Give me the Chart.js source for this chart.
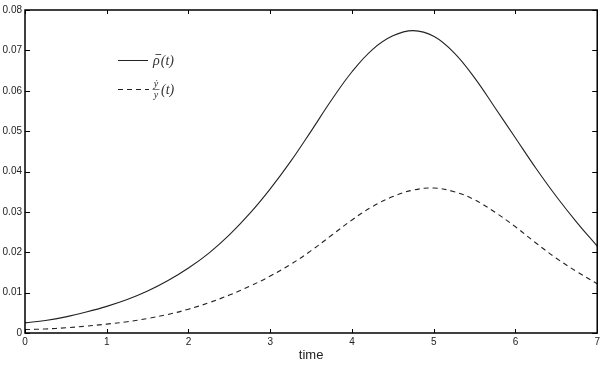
<!DOCTYPE html>
<html>
<head>
<meta charset="utf-8">
<script src="https://cdn.jsdelivr.net/npm/chart.js@4.4.1/dist/chart.umd.min.js"></script>
<style>
  html, body { margin: 0; padding: 0; background: #fff; }
  #wrap { width: 603px; height: 374px; }
</style>
</head>
<body>
<div id="wrap"><canvas id="c" width="603" height="374"></canvas></div>
<script>
const times = [0, 0.25, 0.5, 0.75, 1, 1.25, 1.5, 1.75, 2, 2.25, 2.5, 2.75, 3, 3.25, 3.5, 3.75, 4, 4.25, 4.5, 4.75, 5, 5.25, 5.5, 5.75, 6, 6.25, 6.5, 6.75, 7];
const rhoBar = [0.0025, 0.0031, 0.0040, 0.0052, 0.0066, 0.0083, 0.0104, 0.0130, 0.0161, 0.0198, 0.0243, 0.0296, 0.0357, 0.0425, 0.0500, 0.0577, 0.0647, 0.0702, 0.0736, 0.0749, 0.0735, 0.0694, 0.0632, 0.0558, 0.0483, 0.0408, 0.0338, 0.0274, 0.0215];
const yDotOverY = [0.00085, 0.0010, 0.0013, 0.0017, 0.0022, 0.0028, 0.0036, 0.0046, 0.0059, 0.0075, 0.0094, 0.0116, 0.0141, 0.0170, 0.0204, 0.0242, 0.0280, 0.0313, 0.0338, 0.0354, 0.0359, 0.0350, 0.0330, 0.0299, 0.0263, 0.0223, 0.0185, 0.0152, 0.0122];
const xTicks = [0, 1, 2, 3, 4, 5, 6, 7];
const yTicks = [0, 0.01, 0.02, 0.03, 0.04, 0.05, 0.06, 0.07, 0.08];
const xTitle = 'time';

const SANS = '"Liberation Sans", Arial, sans-serif';
const SERIF = '"Liberation Serif", "DejaVu Serif", serif';

const framePlugin = {
  id: 'frame',
  afterDraw(chart) {
    const ctx = chart.ctx;
    const a = chart.chartArea;
    const xs = chart.scales.x, ys = chart.scales.y;
    ctx.save();
    ctx.strokeStyle = '#000';
    ctx.lineWidth = 1;
    ctx.beginPath();
    xTicks.forEach(v => {
      const px = Math.round(xs.getPixelForValue(v)) + 0.5;
      ctx.moveTo(px, a.bottom); ctx.lineTo(px, a.bottom - 4);
      ctx.moveTo(px, a.top); ctx.lineTo(px, a.top + 4);
    });
    yTicks.forEach(v => {
      const py = Math.round(ys.getPixelForValue(v)) + 0.5;
      ctx.moveTo(a.left, py); ctx.lineTo(a.left + 5, py);
      ctx.moveTo(a.right, py); ctx.lineTo(a.right - 5, py);
    });
    ctx.stroke();
    ctx.lineWidth = 1.5;
    ctx.strokeRect(a.left, a.top, a.right - a.left, a.bottom - a.top);
    ctx.restore();
  }
};

const legendPlugin = {
  id: 'mathLegend',
  afterDatasetsDraw(chart) {
    const ctx = chart.ctx;
    ctx.save();
    ctx.strokeStyle = '#222';
    ctx.lineWidth = 1;
    ctx.beginPath(); ctx.moveTo(118, 60.5); ctx.lineTo(148, 60.5); ctx.stroke();
    ctx.setLineDash([5, 4]);
    ctx.beginPath(); ctx.moveTo(118, 89.5); ctx.lineTo(149, 89.5); ctx.stroke();
    ctx.setLineDash([]);
    ctx.fillStyle = '#333';
    ctx.textBaseline = 'alphabetic';
    ctx.textAlign = 'left';
    ctx.font = 'italic 14px ' + SERIF;
    ctx.fillText('\u03C1', 153, 65);
    const rw = ctx.measureText('\u03C1').width;
    ctx.lineWidth = 0.8;
    ctx.beginPath(); ctx.moveTo(155.5, 54.5); ctx.lineTo(153 + rw + 1.5, 54.5); ctx.stroke();
    ctx.fillText('(t)', 153 + rw + 1, 65);
    ctx.font = 'italic 10px ' + SERIF;
    ctx.textAlign = 'center';
    ctx.fillText('\u1E8F', 156, 87);
    ctx.fillText('y', 156, 98);
    ctx.beginPath(); ctx.moveTo(152.5, 89.5); ctx.lineTo(159.5, 89.5); ctx.lineWidth = 0.6; ctx.stroke();
    ctx.textAlign = 'left';
    ctx.font = 'italic 14px ' + SERIF;
    ctx.fillText('(t)', 161, 94);
    ctx.restore();
  }
};

new Chart(document.getElementById('c'), {
  type: 'line',
  data: {
    datasets: [
      {
        label: 'rho bar',
        data: times.map((t, i) => ({ x: t, y: rhoBar[i] })),
        borderColor: '#222',
        borderWidth: 1.1,
        pointRadius: 0,
        tension: 0.4,
        fill: false
      },
      {
        label: 'ydot/y',
        data: times.map((t, i) => ({ x: t, y: yDotOverY[i] })),
        borderColor: '#222',
        borderWidth: 1.1,
        borderDash: [5, 4],
        pointRadius: 0,
        tension: 0.4,
        fill: false
      }
    ]
  },
  options: {
    responsive: false,
    animation: false,
    devicePixelRatio: 1,
    layout: { padding: { top: 10, right: 5, left: 0, bottom: 0 } },
    plugins: { legend: { display: false }, tooltip: { enabled: false } },
    scales: {
      x: {
        type: 'linear',
        min: 0, max: 7,
        afterBuildTicks(s) { s.ticks = xTicks.map(v => ({ value: v })); },
        ticks: { font: { family: SANS, size: 10 }, color: '#222', padding: 3, maxRotation: 0 },
        grid: { display: false, drawTicks: false },
        border: { display: false },
        title: { display: true, text: xTitle, font: { family: SANS, size: 13 }, color: '#222', padding: { top: 0, bottom: 11 } },
        afterFit(s) { s.height = 41; }
      },
      y: {
        type: 'linear',
        min: 0, max: 0.08,
        afterBuildTicks(s) { s.ticks = yTicks.map(v => ({ value: v })); },
        ticks: { font: { family: SANS, size: 10 }, color: '#222', padding: 3,
          callback: v => (v === 0 ? '0' : v.toFixed(2)) },
        grid: { display: false, drawTicks: false },
        border: { display: false },
        afterFit(s) { s.width = 25; }
      }
    }
  },
  plugins: [framePlugin, legendPlugin]
});
</script>
</body>
</html>
